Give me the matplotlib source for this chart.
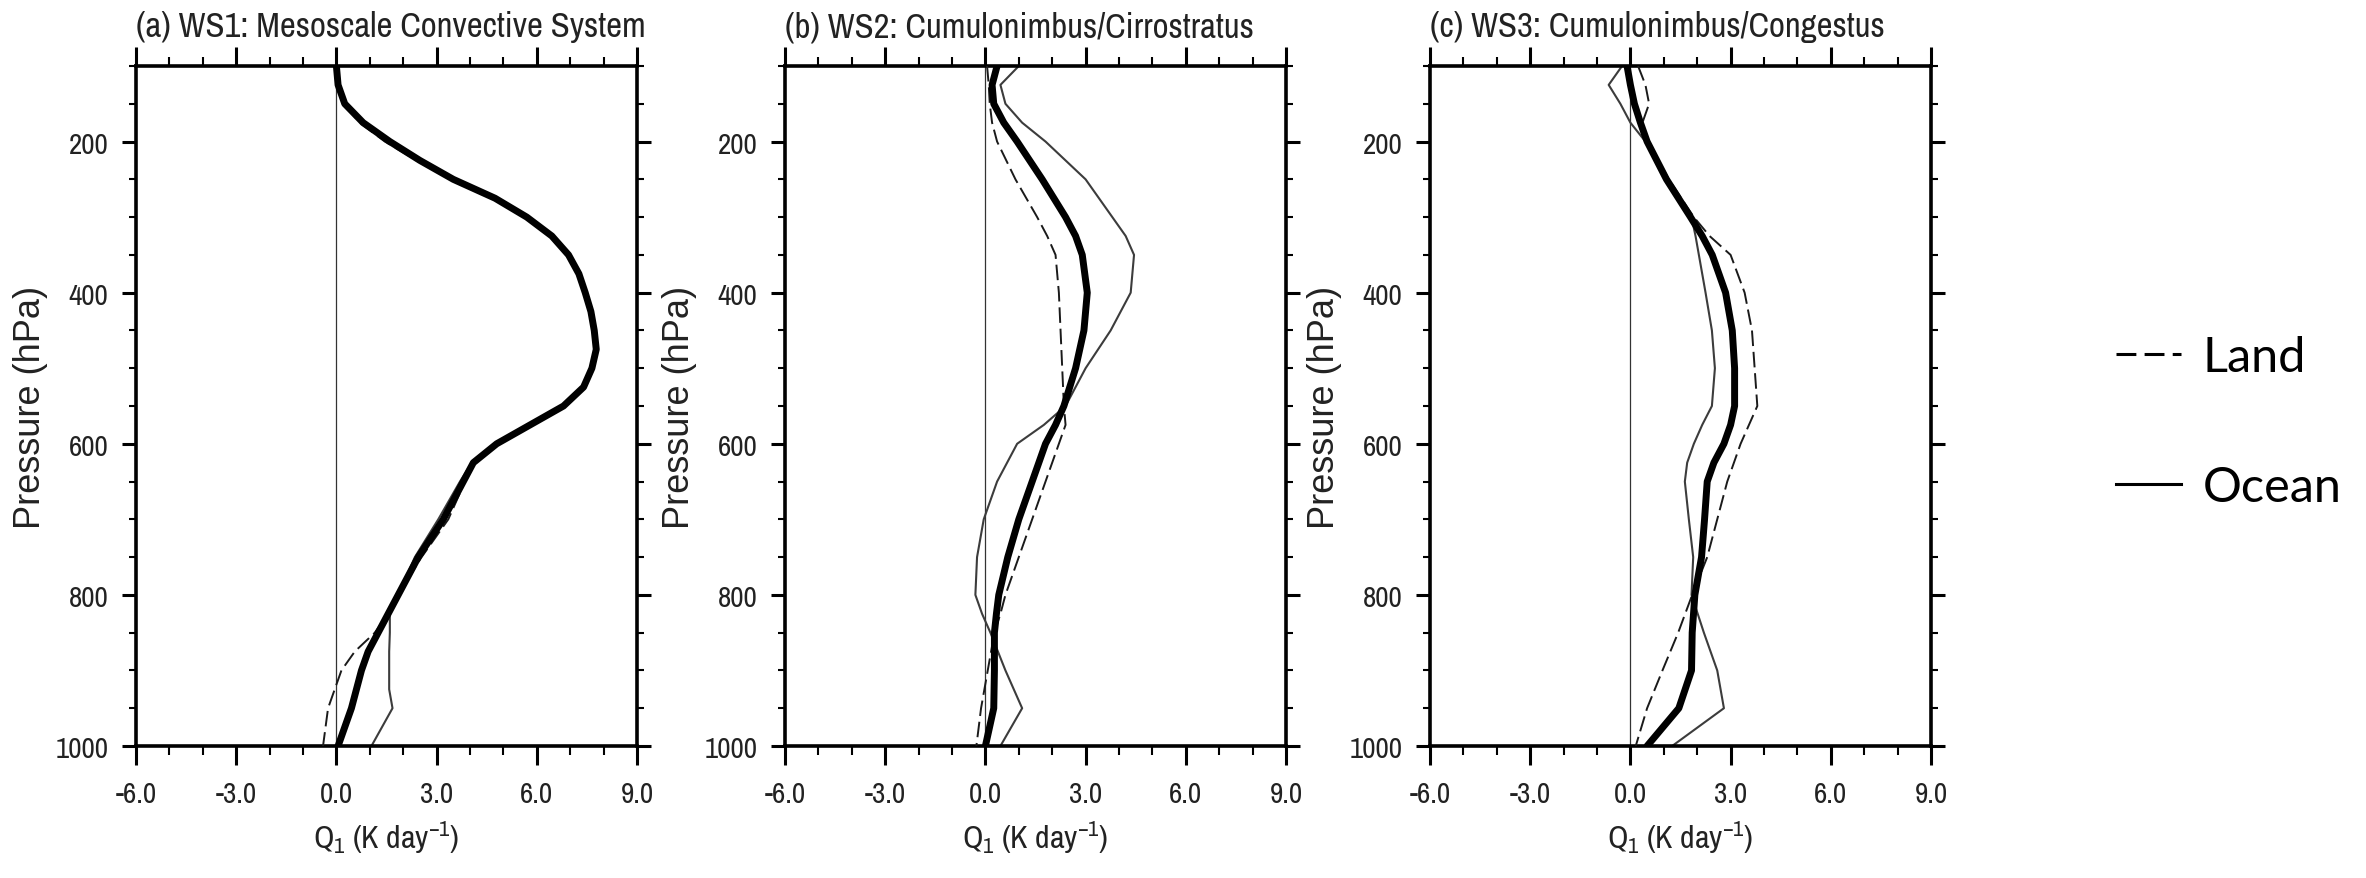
import matplotlib
matplotlib.use("Agg")
import matplotlib.pyplot as plt
from matplotlib.lines import Line2D
from matplotlib.ticker import MultipleLocator

NARROW = ['Nimbus Sans Narrow', 'Liberation Sans Narrow', 'Arial Narrow', 'Archivo Narrow', 'Liberation Sans']
plt.rcParams['font.family'] = NARROW + ['DejaVu Sans']
plt.rcParams['mathtext.fontset'] = 'custom'
plt.rcParams['mathtext.rm'] = 'Archivo Narrow'
plt.rcParams['mathtext.it'] = 'Archivo Narrow:italic'

# ---------------- data ----------------
titles = ["(a) WS1: Mesoscale Convective System",
          "(b) WS2: Cumulonimbus/Cirrostratus",
          "(c) WS3: Cumulonimbus/Congestus"]
xlabel = r"Q$_\mathregular{1}$ (K day$^\mathregular{-1}$)"
ylabel = "Pressure (hPa)"
x_ticks = [-6, -3, 0, 3, 6, 9]
x_ticklabels = ["-6.0", "-3.0", "0.0", "3.0", "6.0", "9.0"]
y_ticks = [200, 400, 600, 800, 1000]
legend_labels = ["Land", "Ocean"]

p_a = [100, 125, 150, 175, 200, 225, 250, 275, 300, 325, 350, 375, 400, 425, 450, 475, 500,
       525, 550, 575, 600, 625, 650, 700, 750, 800, 825, 850, 875, 900, 925, 950, 1000]
all_a = [0.0, 0.05, 0.25, 0.8, 1.6, 2.5, 3.5, 4.75, 5.7, 6.45, 6.95, 7.26, 7.45, 7.62, 7.72, 7.78,
         7.65, 7.4, 6.8, 5.8, 4.8, 4.1, 3.8, 3.2, 2.45, 1.85, 1.55, 1.25, 0.95, 0.75, 0.6, 0.45, 0.05]
land_a = [0.0, 0.05, 0.2, 0.7, 1.45, 2.4, 3.45, 4.7, 5.65, 6.45, 6.95, 7.26, 7.45, 7.62, 7.72, 7.78,
          7.65, 7.4, 6.8, 5.8, 4.8, 4.1, 3.85, 3.35, 2.55, 1.85, 1.55, 1.15, 0.55, 0.15, -0.05, -0.25, -0.4]
ocean_a = [0.0, 0.05, 0.25, 0.8, 1.6, 2.5, 3.5, 4.75, 5.7, 6.45, 6.95, 7.26, 7.45, 7.62, 7.72, 7.78,
           7.65, 7.4, 6.8, 5.8, 4.8, 4.05, 3.7, 3.05, 2.35, 1.85, 1.6, 1.6, 1.58, 1.58, 1.58, 1.68, 1.05]

p_b = [100, 125, 150, 175, 200, 250, 300, 325, 350, 400, 450, 500, 550, 575, 600,
       650, 700, 750, 800, 825, 850, 900, 950, 1000]
all_b = [0.35, 0.2, 0.25, 0.55, 0.95, 1.7, 2.4, 2.7, 2.9, 3.05, 2.95, 2.7, 2.35, 2.1, 1.8,
         1.4, 1.0, 0.67, 0.4, 0.33, 0.27, 0.27, 0.25, 0.0]
land_b = [0.05, 0.1, 0.13, 0.2, 0.35, 0.9, 1.55, 1.85, 2.1, 2.2, 2.25, 2.3, 2.35, 2.4, 2.2,
          1.8, 1.4, 1.0, 0.6, 0.45, 0.27, 0.07, -0.13, -0.27]
ocean_b = [1.0, 0.45, 0.6, 1.1, 1.8, 3.0, 3.8, 4.2, 4.45, 4.35, 3.75, 3.0, 2.4, 1.75, 0.95,
           0.35, -0.05, -0.25, -0.3, -0.1, 0.15, 0.6, 1.1, 0.45]

p_c = [100, 125, 150, 175, 200, 250, 300, 325, 350, 400, 450, 500, 550, 575, 600,
       625, 650, 700, 750, 800, 850, 900, 950, 1000]
all_c = [-0.1, 0.0, 0.12, 0.3, 0.5, 1.08, 1.8, 2.15, 2.45, 2.85, 3.05, 3.12, 3.12, 3.0, 2.8,
         2.5, 2.3, 2.22, 2.13, 1.93, 1.85, 1.83, 1.45, 0.5]
land_c = [0.23, 0.45, 0.56, 0.36, 0.52, 1.15, 1.9, 2.37, 3.0, 3.42, 3.64, 3.72, 3.8, 3.55, 3.3,
          3.1, 2.9, 2.6, 2.3, 1.85, 1.43, 0.96, 0.5, 0.16]
ocean_c = [-0.25, -0.65, -0.3, 0.0, 0.45, 1.1, 1.83, 1.95, 2.05, 2.25, 2.44, 2.53, 2.44, 2.15, 1.9,
           1.7, 1.63, 1.75, 1.88, 1.83, 2.2, 2.6, 2.8, 1.25]

panels = [(p_a, all_a, land_a, ocean_a),
          (p_b, all_b, land_b, ocean_b),
          (p_c, all_c, land_c, ocean_c)]

# ---------------- figure ----------------
W, H = 2366, 879
fig = plt.figure(figsize=(W / 100, H / 100), dpi=100)
lefts = [136, 785, 1430]
ax_w, ax_top, ax_bot = 501, 67, 747

for i, (p, a, l, o) in enumerate(panels):
    ax = fig.add_axes([lefts[i] / W, (H - ax_bot) / H, ax_w / W, (ax_bot - ax_top) / H])
    ax.axvline(0, color='#333333', lw=0.9, zorder=1)
    ax.plot(o, p, color='#3c3c3c', lw=1.5, zorder=2)
    ax.plot(l, p, color='#1a1a1a', lw=1.4, linestyle=(0, (8, 3)), zorder=3)
    ax.plot(a, p, color='black', lw=5.0, zorder=4, solid_capstyle='round')
    ax.set_xlim(-6, 9)
    ax.set_ylim(1000, 100)
    ax.set_xticks(x_ticks)
    ax.set_xticklabels(x_ticklabels)
    ax.set_yticks(y_ticks)
    ax.xaxis.set_minor_locator(MultipleLocator(1))
    ax.yaxis.set_minor_locator(MultipleLocator(50))
    ax.tick_params(which='both', direction='out', top=True, right=True,
                   labeltop=False, labelright=False, colors='black')
    ax.tick_params(axis='x', which='major', length=13.7, width=2.2, pad=11, labelsize=21,
                   labelcolor='#222222')
    ax.tick_params(axis='x', which='minor', length=6.5, width=1.5)
    ax.tick_params(axis='y', which='major', length=10, width=2.2, pad=10, labelsize=21,
                   labelcolor='#222222')
    ax.tick_params(axis='y', which='minor', length=5, width=1.5)
    for s in ax.spines.values():
        s.set_linewidth(2.6)
    ax.set_xlabel(xlabel, fontsize=23, labelpad=8, color='#222222')
    ax.set_ylabel(ylabel, fontsize=26, color='#222222',
                  fontfamily=['Liberation Sans', 'DejaVu Sans'])
    ax.yaxis.set_label_coords(-0.176, 0.5)
    ax.text(0, 1.044, titles[i], transform=ax.transAxes, ha='left', va='baseline',
            fontsize=25, color='#222222')

handles = [Line2D([], [], color='black', lw=2.2, linestyle=(0, (6.5, 2.7))),
           Line2D([], [], color='black', lw=2.2)]
fig.legend(handles, legend_labels, loc='center left',
           bbox_to_anchor=(2116 / W, (H - 423) / H), frameon=False,
           prop={'family': ['Lato', 'DejaVu Sans'], 'size': 35},
           handlelength=1.33, handletextpad=0.45, labelspacing=1.75,
           borderpad=0, borderaxespad=0)

fig.savefig("out.png", dpi=100)
